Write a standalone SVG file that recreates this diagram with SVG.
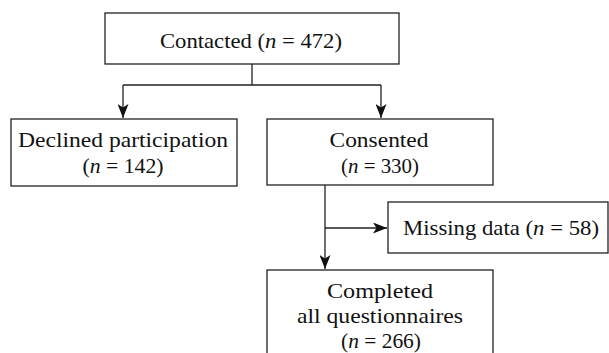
<svg xmlns="http://www.w3.org/2000/svg" width="609" height="353" viewBox="0 0 609 353">
<style>
.box{fill:#fff;stroke:#222;stroke-width:1.3}
.t{font-family:"Liberation Serif","Times New Roman",serif;font-size:21px;fill:#111;text-anchor:middle}
.c{fill:none;stroke:#222;stroke-width:1.3}
</style>
<defs>
<marker id="ah" viewBox="0 0 14 11" refX="14" refY="5.5" markerWidth="14" markerHeight="11" markerUnits="userSpaceOnUse" orient="auto">
<path d="M0,0 L14,5.5 L0,11 L3.5,5.5 Z" fill="#111"/>
</marker>
</defs>
<rect width="609" height="353" fill="#fff"/>
<g id="connectors">
<path class="c" d="M252,64 V85 M123,85 H381"/>
<path class="c" d="M123,85 V118" marker-end="url(#ah)"/>
<path class="c" d="M381,85 V118" marker-end="url(#ah)"/>
<path class="c" d="M325,185 V269" marker-end="url(#ah)"/>
<path class="c" d="M325,228 H387" marker-end="url(#ah)"/>
</g>
<g id="contacted">
<rect class="box" x="105" y="13" width="294" height="51"/>
<text class="t" x="251" y="48" textLength="182" lengthAdjust="spacingAndGlyphs">Contacted (<tspan font-style="italic">n</tspan> = 472)</text>
</g>
<g id="declined">
<rect class="box" x="11" y="119" width="226" height="67"/>
<text class="t" x="123" y="147" textLength="210" lengthAdjust="spacingAndGlyphs">Declined participation</text>
<text class="t" x="123" y="173" textLength="81" lengthAdjust="spacingAndGlyphs">(<tspan font-style="italic">n</tspan> = 142)</text>
</g>
<g id="consented">
<rect class="box" x="267" y="119" width="226" height="66"/>
<text class="t" x="379" y="147" textLength="99" lengthAdjust="spacingAndGlyphs">Consented</text>
<text class="t" x="380" y="173" textLength="78" lengthAdjust="spacingAndGlyphs">(<tspan font-style="italic">n</tspan> = 330)</text>
</g>
<g id="missing">
<rect class="box" x="388" y="202" width="220" height="51"/>
<text class="t" x="501" y="235" textLength="196" lengthAdjust="spacingAndGlyphs">Missing data (<tspan font-style="italic">n</tspan> = 58)</text>
</g>
<g id="completed">
<rect class="box" x="267" y="270" width="226" height="100"/>
<text class="t" x="380" y="298" textLength="106" lengthAdjust="spacingAndGlyphs">Completed</text>
<text class="t" x="380" y="323" textLength="166" lengthAdjust="spacingAndGlyphs">all questionnaires</text>
<text class="t" x="381" y="348" textLength="80" lengthAdjust="spacingAndGlyphs">(<tspan font-style="italic">n</tspan> = 266)</text>
</g>
</svg>
